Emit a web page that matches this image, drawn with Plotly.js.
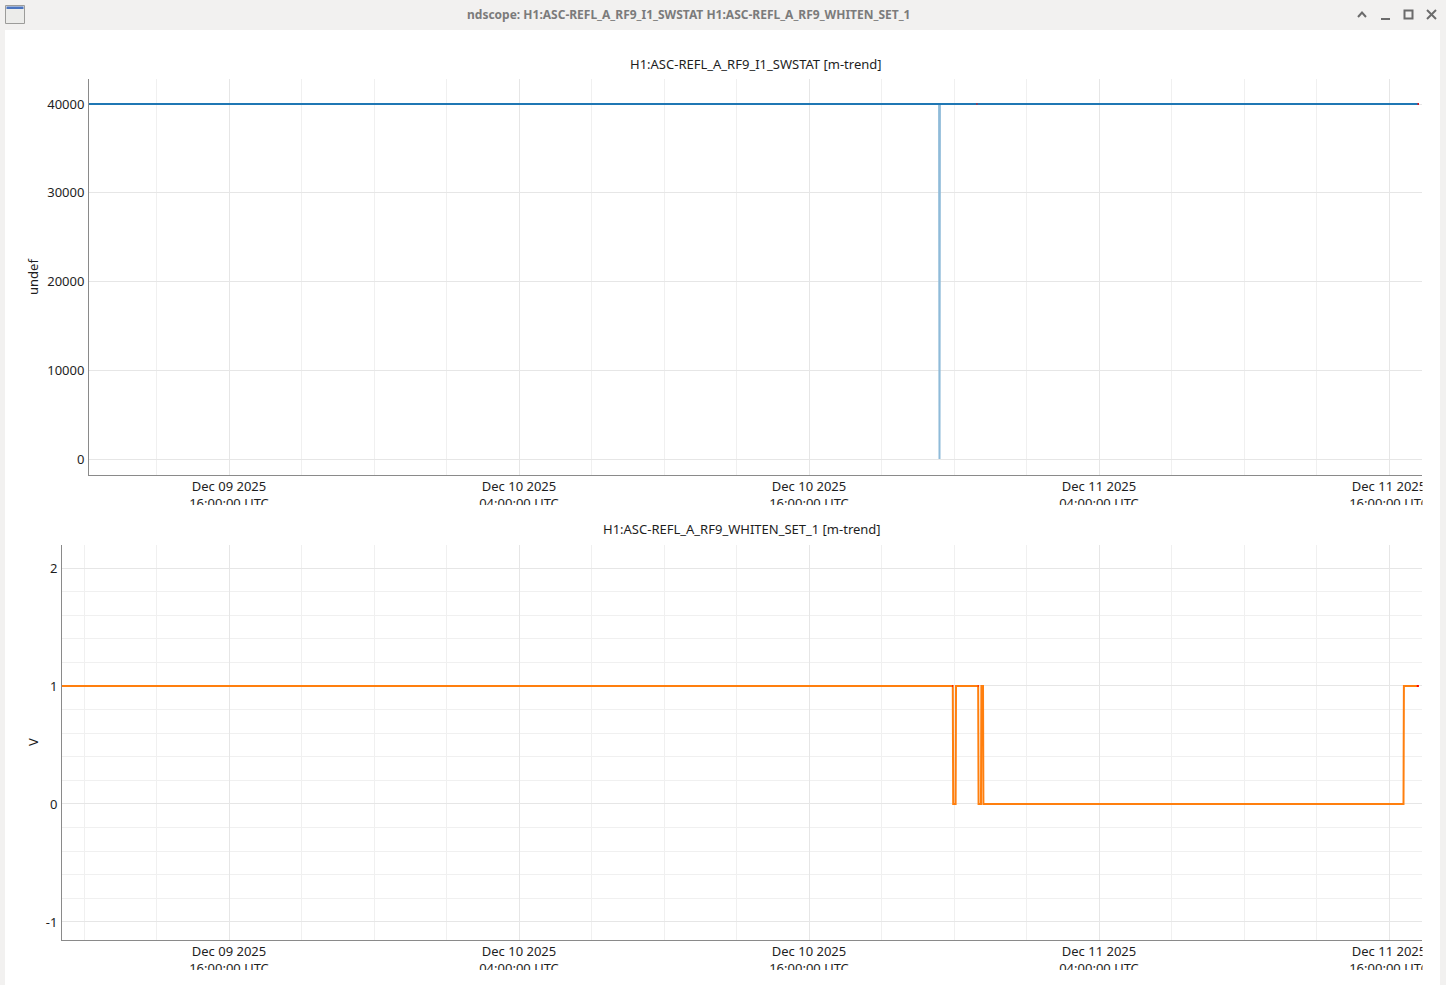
<!DOCTYPE html>
<html>
<head>
<meta charset="utf-8">
<script src="https://cdn.plot.ly/plotly-3.0.1.min.js"></script>
<style>
  html, body { margin: 0; padding: 0; background: #f2f1f0; }
  #chart { width: 1446px; height: 985px; }
</style>
</head>
<body>
<div id="chart"></div>
<script>
// ---------------- data ----------------
const windowTitle = 'ndscope: H1:ASC-REFL_A_RF9_I1_SWSTAT H1:ASC-REFL_A_RF9_WHITEN_SET_1';
const topTitle = 'H1:ASC-REFL_A_RF9_I1_SWSTAT [m-trend]';
const bottomTitle = 'H1:ASC-REFL_A_RF9_WHITEN_SET_1 [m-trend]';
const topUnit = 'undef';
const bottomUnit = 'V';

const tickVals = ['2025-12-09 16:00', '2025-12-10 04:00', '2025-12-10 16:00', '2025-12-11 04:00', '2025-12-11 16:00'];
const tickText = ['Dec 09 2025<br>16:00:00 UTC', 'Dec 10 2025<br>04:00:00 UTC', 'Dec 10 2025<br>16:00:00 UTC',
                  'Dec 11 2025<br>04:00:00 UTC', 'Dec 11 2025<br>16:00:00 UTC'];

// SWSTAT minute trend (mean and min)
const swTimes = ['2025-12-09 09:00', '2025-12-10 21:23', '2025-12-10 21:24', '2025-12-10 21:25', '2025-12-11 17:14'];
const swMean  = [40000, 40000, 40000, 40000, 40000];
const swMin   = [40000, 40000, 0, 40000, 40000];
// red (latest / flagged) segments
const swRedTimes = ['2025-12-10 22:56', '2025-12-10 22:58', null, '2025-12-11 17:11', '2025-12-11 17:14'];
const swRedVals  = [40000, 40000, null, 40000, 40000];

// WHITEN_SET_1 minute trend (mean)
const wsTimes = ['2025-12-09 09:00', '2025-12-10 21:57', '2025-12-10 21:58', '2025-12-10 22:04', '2025-12-10 22:05',
                 '2025-12-10 23:00', '2025-12-10 23:01', '2025-12-10 23:07', '2025-12-10 23:08', '2025-12-10 23:12',
                 '2025-12-10 23:13', '2025-12-11 16:36', '2025-12-11 16:37', '2025-12-11 17:14'];
const wsMean  = [1, 1, 0, 0, 1, 1, 0, 0, 1, 1, 0, 0, 1, 1];
const wsRedTimes = ['2025-12-10 21:55', '2025-12-10 21:57', null, '2025-12-10 22:59', '2025-12-10 23:01', null, '2025-12-11 17:09', '2025-12-11 17:14'];
const wsRedVals  = [1, 1, null, 1, 1, null, 1, 1];

const topYTicks = [0, 10000, 20000, 30000, 40000];
const topYText = ['0', '10000', '20000', '30000', '40000'];
const bottomYTicks = [-1, 0, 1, 2];
const bottomYText = ['-1', '0', '1', '2'];

// ---------------- layout helpers ----------------
const W = 1446, H = 985;
const fx = p => p / W;
const fy = p => 1 - p / H;
const FONT = 'Noto Sans, Open Sans, sans-serif';

const gridMajor = '#e6e6e6';
const gridMinor = '#f0f0f0';
const axisLine = '#8a8a8a';

function xAxis(domL, domR, rangeL, anchor) {
  return {
    domain: [fx(domL), fx(domR)], anchor: anchor,
    type: 'date', range: [rangeL, '2025-12-11 17:21:56'],
    tickmode: 'array', tickvals: tickVals, ticktext: tickText,
    showgrid: true, gridcolor: gridMajor, gridwidth: 1,
    minor: { tickmode: 'linear', tick0: '2025-12-09 16:00', dtick: 3 * 3600 * 1000, showgrid: true, gridcolor: gridMinor, ticks: '' },
    showline: true, linecolor: axisLine, linewidth: 1,
    ticks: '', ticklabelstandoff: -1, zeroline: false, fixedrange: true,
    tickfont: { family: FONT, size: 13, color: '#1e1e1e' }
  };
}

const traces = [
  { x: swTimes, y: swMin, xaxis: 'x', yaxis: 'y', mode: 'lines', line: { color: '#8fbbd9', width: 2 }, hoverinfo: 'skip', showlegend: false },
  { x: swTimes, y: swMean, xaxis: 'x', yaxis: 'y', mode: 'lines', line: { color: '#1f77b4', width: 2 }, showlegend: false },
  { x: swRedTimes, y: swRedVals, xaxis: 'x', yaxis: 'y', mode: 'lines', connectgaps: false, line: { color: '#ff0000', width: 2 }, showlegend: false },
  { x: wsTimes, y: wsMean, xaxis: 'x2', yaxis: 'y2', mode: 'lines', line: { color: '#ff7f0e', width: 2 }, showlegend: false },
  { x: wsRedTimes, y: wsRedVals, xaxis: 'x2', yaxis: 'y2', mode: 'lines', connectgaps: false, line: { color: '#ff0000', width: 2 }, showlegend: false }
];

const shapes = [
  // white window content
  { type: 'rect', xref: 'paper', yref: 'paper', x0: fx(5), x1: fx(1440), y0: fy(985), y1: fy(30), fillcolor: '#ffffff', line: { width: 0 }, layer: 'below' },
  // window icon
  { type: 'rect', xref: 'paper', yref: 'paper', x0: fx(5.5), x1: fx(24.5), y0: fy(23.5), y1: fy(5.5), fillcolor: '#ececea', line: { color: '#9c9c9a', width: 1 }, layer: 'above' },
  { type: 'rect', xref: 'paper', yref: 'paper', x0: fx(6.5), x1: fx(23.5), y0: fy(9), y1: fy(6.5), fillcolor: '#4a74c0', line: { width: 0 }, layer: 'above' },
  // title bar buttons
  { type: 'path', xref: 'paper', yref: 'paper', path: `M ${fx(1358)} ${fy(17)} L ${fx(1362)} ${fy(12.5)} L ${fx(1366)} ${fy(17)}`, line: { color: '#6b6b6b', width: 2 }, layer: 'above' },
  { type: 'line', xref: 'paper', yref: 'paper', x0: fx(1381), x1: fx(1390), y0: fy(19), y1: fy(19), line: { color: '#6b6b6b', width: 2 }, layer: 'above' },
  { type: 'rect', xref: 'paper', yref: 'paper', x0: fx(1404.5), x1: fx(1412.5), y0: fy(18.5), y1: fy(10.5), line: { color: '#6b6b6b', width: 2 }, layer: 'above' },
  { type: 'line', xref: 'paper', yref: 'paper', x0: fx(1427), x1: fx(1436), y0: fy(10), y1: fy(19), line: { color: '#6b6b6b', width: 2 }, layer: 'above' },
  { type: 'line', xref: 'paper', yref: 'paper', x0: fx(1427), x1: fx(1436), y0: fy(19), y1: fy(10), line: { color: '#6b6b6b', width: 2 }, layer: 'above' },
  // clipping of the tick label rows (as in the reference)
  { type: 'rect', xref: 'paper', yref: 'paper', x0: fx(5), x1: fx(1440), y0: fy(520), y1: fy(505), fillcolor: '#ffffff', line: { width: 0 }, layer: 'above' },
  { type: 'rect', xref: 'paper', yref: 'paper', x0: fx(1422.5), x1: fx(1440), y0: fy(515), y1: fy(477), fillcolor: '#ffffff', line: { width: 0 }, layer: 'above' },
  { type: 'rect', xref: 'paper', yref: 'paper', x0: fx(1422.5), x1: fx(1440), y0: fy(985), y1: fy(942), fillcolor: '#ffffff', line: { width: 0 }, layer: 'above' },
  { type: 'rect', xref: 'paper', yref: 'paper', x0: fx(5), x1: fx(1440), y0: fy(985), y1: fy(970), fillcolor: '#ffffff', line: { width: 0 }, layer: 'above' }
];

const annotations = [
  { text: windowTitle, xref: 'paper', yref: 'paper', x: fx(688.5), y: fy(14.5), xanchor: 'center', yanchor: 'middle', showarrow: false,
    font: { family: FONT, size: 12, color: '#7b7b7b', weight: 'bold' } },
  { text: topTitle, xref: 'paper', yref: 'paper', x: fx(755.5), y: fy(64), xanchor: 'center', yanchor: 'middle', showarrow: false,
    font: { family: FONT, size: 13, color: '#1e1e1e' } },
  { text: bottomTitle, xref: 'paper', yref: 'paper', x: fx(742), y: fy(529), xanchor: 'center', yanchor: 'middle', showarrow: false,
    font: { family: FONT, size: 13, color: '#1e1e1e' } },
  { text: topUnit, xref: 'paper', yref: 'paper', x: fx(33), y: fy(277), xanchor: 'center', yanchor: 'middle', textangle: -90, showarrow: false,
    font: { family: FONT, size: 13, color: '#1e1e1e' } },
  { text: bottomUnit, xref: 'paper', yref: 'paper', x: fx(33), y: fy(742), xanchor: 'center', yanchor: 'middle', textangle: -90, showarrow: false,
    font: { family: FONT, size: 13, color: '#1e1e1e' } }
];

const layout = {
  width: W, height: H,
  margin: { l: 0, r: 0, t: 0, b: 0, pad: 0 },
  paper_bgcolor: '#f2f1f0',
  plot_bgcolor: '#ffffff',
  showlegend: false,
  hovermode: false,
  xaxis: xAxis(89, 1422, '2025-12-09 10:12:25', 'y'),
  yaxis: {
    domain: [fy(475), fy(79)], anchor: 'x',
    range: [-1803, 42817], tickmode: 'array', tickvals: topYTicks, ticktext: topYText,
    showgrid: true, gridcolor: gridMajor, zeroline: false,
    showline: true, linecolor: axisLine, linewidth: 1, ticks: '', ticklabelstandoff: 1, fixedrange: true,
    tickfont: { family: FONT, size: 13, color: '#1e1e1e' }
  },
  xaxis2: xAxis(62, 1422, '2025-12-09 09:05:23', 'y2'),
  yaxis2: {
    domain: [fy(940), fy(545)], anchor: 'x2',
    range: [-1.153, 2.195], tickmode: 'array', tickvals: bottomYTicks, ticktext: bottomYText,
    minor: { tickmode: 'linear', tick0: 0, dtick: 0.2, showgrid: true, gridcolor: gridMinor, ticks: '' },
    showgrid: true, gridcolor: gridMajor, zeroline: false,
    showline: true, linecolor: axisLine, linewidth: 1, ticks: '', ticklabelstandoff: 1, fixedrange: true,
    tickfont: { family: FONT, size: 13, color: '#1e1e1e' }
  },
  shapes: shapes,
  annotations: annotations
};

Plotly.newPlot('chart', traces, layout, { staticPlot: true, displayModeBar: false });
</script>
</body>
</html>
